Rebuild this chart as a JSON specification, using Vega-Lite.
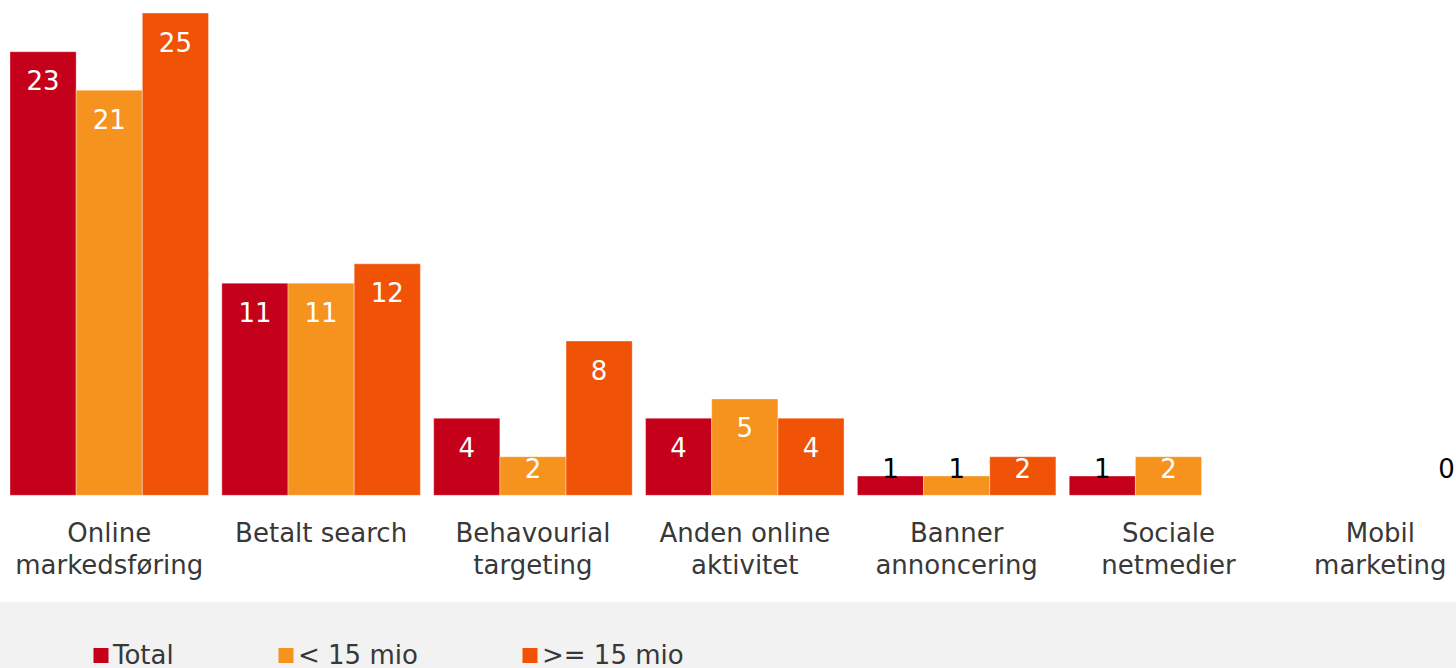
{
  "$schema": "https://vega.github.io/schema/vega-lite/v6.json",
  "autosize": {"type": "none"},
  "width": 1456,
  "height": 602,
  "padding": {"left": 0, "top": 0, "right": 0, "bottom": 66},
  "background": "#f2f2f2",
  "config": {
    "view": {"fill": "white", "stroke": null},
    "font": "DejaVu Sans"
  },
  "data": {
    "values": [
      {"cat": "Online\nmarkedsføring", "series": "Total", "value": 23},
      {"cat": "Online\nmarkedsføring", "series": "< 15 mio", "value": 21},
      {"cat": "Online\nmarkedsføring", "series": ">= 15 mio", "value": 25},
      {"cat": "Betalt search", "series": "Total", "value": 11},
      {"cat": "Betalt search", "series": "< 15 mio", "value": 11},
      {"cat": "Betalt search", "series": ">= 15 mio", "value": 12},
      {"cat": "Behavourial\ntargeting", "series": "Total", "value": 4},
      {"cat": "Behavourial\ntargeting", "series": "< 15 mio", "value": 2},
      {"cat": "Behavourial\ntargeting", "series": ">= 15 mio", "value": 8},
      {"cat": "Anden online\naktivitet", "series": "Total", "value": 4},
      {"cat": "Anden online\naktivitet", "series": "< 15 mio", "value": 5},
      {"cat": "Anden online\naktivitet", "series": ">= 15 mio", "value": 4},
      {"cat": "Banner\nannoncering", "series": "Total", "value": 1},
      {"cat": "Banner\nannoncering", "series": "< 15 mio", "value": 1},
      {"cat": "Banner\nannoncering", "series": ">= 15 mio", "value": 2},
      {"cat": "Sociale\nnetmedier", "series": "Total", "value": 1},
      {"cat": "Sociale\nnetmedier", "series": "< 15 mio", "value": 2},
      {"cat": "Mobil\nmarketing", "series": ">= 15 mio", "value": 0}
    ]
  },
  "encoding": {
    "x": {
      "field": "cat",
      "type": "nominal",
      "sort": null,
      "scale": {"range": [10, 1479.6], "paddingInner": 0.063, "paddingOuter": 0},
      "axis": {
        "title": null,
        "orient": "bottom",
        "offset": -106.7,
        "domain": false,
        "ticks": false,
        "tickSize": 0,
        "grid": false,
        "labelAngle": 0,
        "labelPadding": 25.4,
        "labelFont": "DejaVu Sans",
        "labelFontSize": 26,
        "labelLineHeight": 32,
        "labelColor": "#383838",
        "labelLimit": 0,
        "labelOverlap": false,
        "labelExpr": "split(datum.label, '\\n')"
      }
    },
    "xOffset": {
      "field": "series",
      "type": "nominal",
      "sort": ["Total", "< 15 mio", ">= 15 mio"],
      "scale": {"paddingInner": 0, "paddingOuter": 0}
    },
    "y": {
      "field": "value",
      "type": "quantitative",
      "scale": {"domain": [-5.53, 25.68], "nice": false, "zero": false},
      "axis": null
    }
  },
  "layer": [
    {
      "mark": {"type": "bar", "stroke": "white", "strokeOpacity": 0.35, "strokeWidth": 1},
      "encoding": {
        "color": {
          "field": "series",
          "type": "nominal",
          "sort": ["Total", "< 15 mio", ">= 15 mio"],
          "scale": {
            "domain": ["Total", "< 15 mio", ">= 15 mio"],
            "range": ["#C5001A", "#F6921E", "#F05206"]
          },
          "legend": {
            "title": null,
            "orient": "none",
            "direction": "horizontal",
            "legendX": 88,
            "legendY": 642.5,
            "symbolType": "square",
            "symbolSize": 225,
            "symbolStrokeWidth": 0,
            "labelOffset": -1,
            "columnPadding": 99,
            "labelFont": "DejaVu Sans",
            "labelFontSize": 26,
            "labelColor": "#383838",
            "padding": 0
          }
        }
      }
    },
    {
      "transform": [{"filter": "datum.value >= 3"}],
      "mark": {"type": "text", "baseline": "middle", "align": "center", "dy": 30.5, "fontSize": 26, "font": "DejaVu Sans", "color": "white"},
      "encoding": {
        "text": {"field": "value", "type": "quantitative"}
      }
    },
    {
      "transform": [{"filter": "datum.value < 3"}],
      "mark": {"type": "text", "baseline": "middle", "align": "center", "fontSize": 26, "font": "DejaVu Sans"},
      "encoding": {
        "y": {"datum": 1.3, "type": "quantitative"},
        "text": {"field": "value", "type": "quantitative"},
        "color": {"condition": {"test": "datum.value >= 2", "value": "white"}, "value": "black"}
      }
    }
  ]
}
